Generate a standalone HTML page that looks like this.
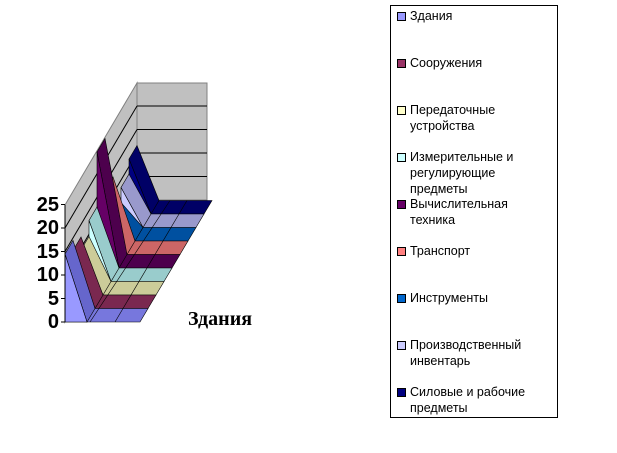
<!DOCTYPE html><html><head><meta charset="utf-8"><style>
body{margin:0;background:#fff;width:617px;height:453px;overflow:hidden;position:relative;font-family:"Liberation Sans",Arial,sans-serif}
.lg{position:absolute;left:390px;top:5px;width:166px;height:411px;border:1px solid #000;font-size:12.5px;line-height:16px}
.it{position:absolute;left:19px;width:135px}
.sq{position:absolute;left:-13px;top:4px;width:7px;height:7px;border:1px solid #000}
.yl{position:absolute;right:558px;font-weight:bold;font-size:20px;line-height:20px}
</style></head><body>
<svg width="617" height="453" style="position:absolute;left:0;top:0">
<g stroke="#808080" stroke-width="1" fill="#C0C0C0">
<polygon points="65,322 65,205 137,83 137,200"/>
<polygon points="137,83 207,83 207,200 137,200"/>
</g>
<g stroke="#000" stroke-width="1">
<line x1="65" y1="298.5" x2="137" y2="176.5"/><line x1="65" y1="275" x2="137" y2="153"/><line x1="65" y1="251.5" x2="137" y2="129.5"/><line x1="65" y1="228" x2="137" y2="106"/>
<line x1="137" y1="176.5" x2="207" y2="176.5"/><line x1="137" y1="153" x2="207" y2="153"/><line x1="137" y1="129.5" x2="207" y2="129.5"/><line x1="137" y1="106" x2="207" y2="106"/>
</g>
<g stroke="#000" stroke-width="0.6">
<polygon fill="#000066" points="129,214 204,214 212,200.5 137,200.5"/><polygon fill="#000066" points="129,159 151,214 159,200.5 137,145.5"/><polygon fill="#000080" points="129,214 129,159 151,214"/>
<polygon fill="#9999cc" points="121,227.5 196,227.5 204,214 129,214"/><polygon fill="#9999cc" points="121,187.5 143,227.5 151,214 129,174"/><polygon fill="#CCCCFF" points="121,227.5 121,187.5 143,227.5"/>
<polygon fill="#0050a0" points="113,241 188,241 196,227.5 121,227.5"/><polygon fill="#0050a0" points="113,216 135,241 143,227.5 121,202.5"/><polygon fill="#0066CC" points="113,241 113,216 135,241"/>
<polygon fill="#cc6666" points="105,254.5 180,254.5 188,241 113,241"/><polygon fill="#cc6666" points="105,190.5 127,254.5 135,241 113,177"/><polygon fill="#FF8080" points="105,254.5 105,190.5 127,254.5"/>
<polygon fill="#4d004d" points="97,268 172,268 180,254.5 105,254.5"/><polygon fill="#4d004d" points="97,152 119,268 127,254.5 105,138.5"/><polygon fill="#660066" points="97,268 97,152 119,268"/>
<polygon fill="#99cccc" points="89,281.5 164,281.5 172,268 97,268"/><polygon fill="#99cccc" points="89,220.5 111,281.5 119,268 97,207"/><polygon fill="#CCFFFF" points="89,281.5 89,220.5 111,281.5"/>
<polygon fill="#cccc99" points="81,295 156,295 164,281.5 89,281.5"/><polygon fill="#cccc99" points="81,250 103,295 111,281.5 89,236.5"/><polygon fill="#FFFFCC" points="81,295 81,250 103,295"/>
<polygon fill="#7a2850" points="73,308.5 148,308.5 156,295 81,295"/><polygon fill="#7a2850" points="73,250.5 95,308.5 103,295 81,237"/><polygon fill="#993366" points="73,308.5 73,250.5 95,308.5"/>
<polygon fill="#7777DD" points="65,322 140,322 148,308.5 73,308.5"/><polygon fill="#6666CC" points="65,254 87,322 95,308.5 73,240.5"/><polygon fill="#9999FF" points="65,322 65,254 87,322"/>
</g>
<g stroke="#000" stroke-width="0.6">
<line x1="90" y1="322" x2="170" y2="200.5"/><line x1="115" y1="322" x2="187" y2="200.5"/>
</g>
<g stroke="#000" stroke-width="1"><line x1="65" y1="205" x2="65" y2="322"/>
<line x1="61" y1="322" x2="65" y2="322"/><line x1="61" y1="298.5" x2="65" y2="298.5"/><line x1="61" y1="275" x2="65" y2="275"/><line x1="61" y1="251.5" x2="65" y2="251.5"/><line x1="61" y1="228" x2="65" y2="228"/><line x1="61" y1="204.5" x2="65" y2="204.5"/></g>
<text x="188" y="325" font-family="Liberation Serif,serif" font-weight="bold" font-size="20">Здания</text>
</svg>
<div class="yl" style="top:195px">25</div><div class="yl" style="top:218px">20</div><div class="yl" style="top:242px">15</div><div class="yl" style="top:265px">10</div><div class="yl" style="top:289px">5</div><div class="yl" style="top:312px">0</div>
<div class="lg">
<div class="it" style="top:2px"><div class="sq" style="background:#9999FF"></div>Здания</div>
<div class="it" style="top:49px"><div class="sq" style="background:#993366"></div>Сооружения</div>
<div class="it" style="top:96px"><div class="sq" style="background:#FFFFCC"></div>Передаточные устройства</div>
<div class="it" style="top:143px"><div class="sq" style="background:#CCFFFF"></div>Измерительные и регулирующие предметы</div>
<div class="it" style="top:190px"><div class="sq" style="background:#660066"></div>Вычислительная техника</div>
<div class="it" style="top:237px"><div class="sq" style="background:#FF8080"></div>Транспорт</div>
<div class="it" style="top:284px"><div class="sq" style="background:#0066CC"></div>Инструменты</div>
<div class="it" style="top:331px"><div class="sq" style="background:#CCCCFF"></div>Производственный инвентарь</div>
<div class="it" style="top:378px"><div class="sq" style="background:#000080"></div>Силовые и рабочие предметы</div>
</div>
</body></html>
